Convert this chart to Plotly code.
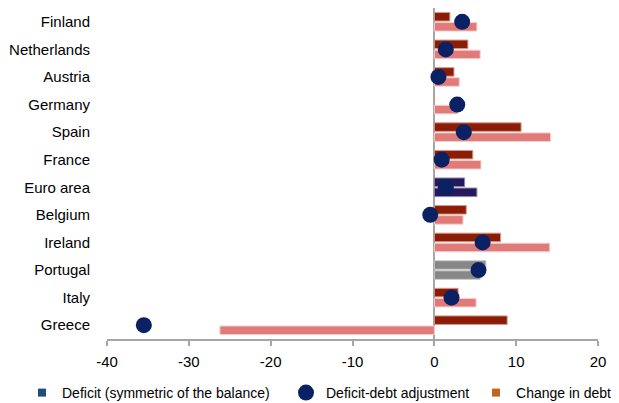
import plotly.graph_objects as go

countries = ["Finland", "Netherlands", "Austria", "Germany", "Spain", "France",
             "Euro area", "Belgium", "Ireland", "Portugal", "Italy", "Greece"]
deficit = [1.9, 4.1, 2.4, 0.0, 10.6, 4.7, 3.7, 3.9, 8.1, 6.3, 2.9, 8.9]
change_in_debt = [5.2, 5.6, 3.05, 2.85, 14.2, 5.7, 5.2, 3.5, 14.1, 5.6, 5.1, -26.2]
dd_adjustment = [3.4, 1.4, 0.5, 2.8, 3.6, 0.9, 1.4, -0.5, 5.9, 5.4, 2.1, -35.5]
x_ticks = [-40, -30, -20, -10, 0, 10, 20]
x_tick_labels = ["-40", "-30", "-20", "-10", "0", "10", "20"]

DARK_RED = "#8B1C06"
PINK = "#E07B79"
NAVY_BAR = "#23195C"
GRAY = "#878787"
DOT = "#0A2163"

def colors_for(base, base_line):
    cols, lines = [], []
    for c in countries:
        if c == "Euro area":
            cols.append(NAVY_BAR); lines.append("#8c88aa")
        elif c == "Portugal":
            cols.append(GRAY); lines.append("#c8c8c8")
        else:
            cols.append(base); lines.append(base_line)
    return cols, lines

def_cols, def_lines = colors_for(DARK_RED, "#d59a8c")
debt_cols, debt_lines = colors_for(PINK, "#f6cfcd")

FONT = "Liberation Sans, Arial, sans-serif"

fig = go.Figure()
fig.add_trace(go.Bar(y=countries, x=deficit, orientation="h",
                     marker=dict(color=def_cols, line=dict(color=def_lines, width=1)),
                     name="Deficit (symmetric of the balance)", showlegend=False))
fig.add_trace(go.Bar(y=countries, x=change_in_debt, orientation="h",
                     marker=dict(color=debt_cols, line=dict(color=debt_lines, width=1)),
                     name="Change in debt", showlegend=False))
fig.add_trace(go.Scatter(y=countries, x=dd_adjustment, mode="markers",
                         marker=dict(color=DOT, size=16, symbol="circle"),
                         name="Deficit-debt adjustment", legend="legend2"))
# legend-only entries
fig.add_trace(go.Scatter(x=[None], y=[None], mode="markers",
                         marker=dict(color="#1F4E78", size=8, symbol="square"),
                         name="Deficit (symmetric of the balance)", legend="legend"))
fig.add_trace(go.Scatter(x=[None], y=[None], mode="markers",
                         marker=dict(color="#C0651F", size=8, symbol="square"),
                         name="Change in debt", legend="legend3"))

leg_common = dict(orientation="h", xref="container", yref="container",
                  y=0.0253, xanchor="left", yanchor="middle",
                  font=dict(family=FONT, size=14, color="#000000"),
                  itemwidth=30, bgcolor="rgba(0,0,0,0)", borderwidth=0)

fig.update_layout(
    width=611, height=395,
    margin=dict(l=99, r=21, t=0, b=64, autoexpand=False),
    plot_bgcolor="white", paper_bgcolor="white",
    barmode="group", bargap=0.27, bargroupgap=0.15,
    font=dict(family=FONT, size=14, color="#000000"),
    showlegend=True,
    legend=dict(x=0.0229, **leg_common),
    legend2=dict(x=0.455, **leg_common),
    legend3=dict(x=0.766, **leg_common),
    xaxis=dict(range=[-40, 20], tickvals=x_ticks, ticktext=x_tick_labels, showgrid=False,
               zeroline=True, zerolinecolor="#a6a6a6", zerolinewidth=1.5,
               showline=True, linecolor="#a6a6a6", linewidth=1.5,
               ticks="outside", ticklen=5, tickcolor="#a6a6a6", tickwidth=1.5,
               ticklabelstandoff=3,
               tickfont=dict(family=FONT, size=15, color="#000000")),
    yaxis=dict(type="category", categoryorder="array", categoryarray=countries,
               range=[11.5, -0.5], showgrid=False, showline=False, ticks="",
               zeroline=False, ticklabelstandoff=16,
               tickfont=dict(family=FONT, size=15, color="#000000")),
)

fig.write_html("out.html")
